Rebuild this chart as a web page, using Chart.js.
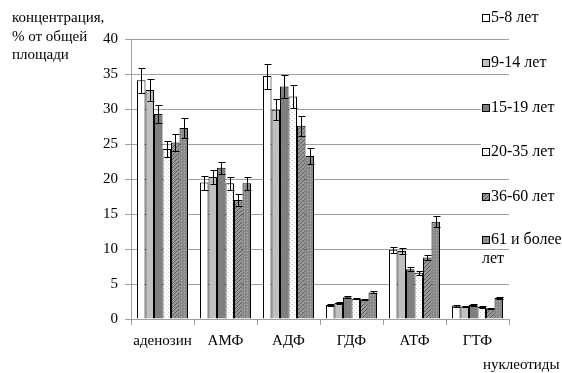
<!DOCTYPE html>
<html><head><meta charset="utf-8">
<script src="https://cdn.jsdelivr.net/npm/chart.js@4"></script>
<style>html,body{margin:0;padding:0;background:#fff}#wrap{width:562px;height:373px}</style>
</head><body><div id="wrap"><canvas id="c" width="562" height="373"></canvas></div>
<script>
const categories = ['аденозин','АМФ','АДФ','ГДФ','АТФ','ГТФ'];
const seriesLabels = ['5-8 лет','9-14 лет','15-19 лет','20-35 лет','36-60 лет','61 и более лет'];
const v_5_8   = [34.1, 19.5, 34.7, 2.0, 9.9, 1.9];
const v_9_14  = [32.7, 20.3, 29.9, 2.3, 9.7, 1.8];
const v_15_19 = [29.3, 21.6, 33.2, 3.1, 7.1, 2.0];
const v_20_35 = [24.3, 19.4, 31.8, 2.9, 6.6, 1.7];
const v_36_60 = [25.2, 17.0, 27.6, 2.8, 8.8, 1.5];
const v_61    = [27.3, 19.4, 23.3, 3.8, 13.9, 3.0];
const e_5_8   = [1.8, 1.0, 1.8, 0.15, 0.4, 0.15];
const e_9_14  = [1.6, 1.0, 1.5, 0.15, 0.4, 0.1];
const e_15_19 = [1.3, 0.9, 1.7, 0.15, 0.3, 0.15];
const e_20_35 = [1.2, 0.9, 1.7, 0.1, 0.3, 0.1];
const e_36_60 = [1.2, 0.8, 1.4, 0.1, 0.4, 0.1];
const e_61    = [1.4, 0.9, 1.2, 0.15, 0.8, 0.15];
const yTicks = [0,5,10,15,20,25,30,35,40];

function tile(size, draw){const c=document.createElement('canvas');c.width=size;c.height=size;const x=c.getContext('2d');draw(x);return document.getElementById('c').getContext('2d').createPattern(c,'repeat');}
const pDots = tile(4, x=>{x.fillStyle='#fff';x.fillRect(0,0,4,4);x.fillStyle='#c8c8c8';x.fillRect(0,0,1,1);x.fillRect(2,2,1,1);});
const pHatch = tile(4, x=>{x.fillStyle='#999999';x.fillRect(0,0,4,4);x.fillStyle='#5a5a5a';for(let i=0;i<4;i++){x.fillRect(i,3-i,1,1);} });
const pGrayDots = tile(3, x=>{x.fillStyle='#8a8a8a';x.fillRect(0,0,3,3);x.fillStyle='#b0b0b0';x.fillRect(1,1,1,1);});
const fills = ['#ffffff','#c0c0c0','#7f7f7f',pDots,pHatch,pGrayDots];
const vals = [v_5_8,v_9_14,v_15_19,v_20_35,v_36_60,v_61];
const errs = [e_5_8,e_9_14,e_15_19,e_20_35,e_36_60,e_61];
const FONT = '"Liberation Serif", "Times New Roman", serif';

const errPlugin = {id:'err', afterDatasetsDraw(chart){
  const ctx=chart.ctx, y=chart.scales.y;
  ctx.save();ctx.strokeStyle='#000';ctx.lineWidth=1;
  chart.data.datasets.forEach((ds,i)=>{
    chart.getDatasetMeta(i).data.forEach((bar,j)=>{
      const v=ds.data[j], e=errs[i][j];
      const x=Math.round(bar.x)+0.5, t=Math.round(y.getPixelForValue(v+e))+0.5, b=Math.round(y.getPixelForValue(v-e))+0.5;
      ctx.beginPath();ctx.moveTo(x,t);ctx.lineTo(x,b);
      ctx.moveTo(x-3,t);ctx.lineTo(x+4,t);ctx.moveTo(x-3,b);ctx.lineTo(x+4,b);ctx.stroke();
    });
  });
  ctx.restore();
}};
const textPlugin = {id:'txt', afterDraw(chart){
  const ctx=chart.ctx;ctx.save();
  ctx.fillStyle='#000';ctx.font='15px '+FONT;ctx.textBaseline='alphabetic';ctx.textAlign='left';
  ctx.fillText('концентрация,',12,22);
  ctx.fillText('% от общей',12,41);
  ctx.fillText('площади',12,59);
  ctx.fillText('нуклеотиды',483,369);
  // legend
  ctx.font='16px '+FONT;
  const ys=[18,63,108,152,197,240];
  ctx.textBaseline='middle';
  chart.data.datasets.forEach((ds,i)=>{
    const yy=ys[i];
    const txt = i===5 ? '61 и более' : ds.label;
    const w = ctx.measureText(txt).width;
    ctx.fillStyle='#fff';ctx.fillRect(481,yy-8,w+10,16);
    ctx.fillStyle=fills[i];ctx.fillRect(482,yy-3,7,7);
    ctx.strokeStyle='#000';ctx.lineWidth=1;ctx.strokeRect(482.5,yy-3.5,7,7);
    ctx.fillStyle='#000';
    ctx.fillText(txt,491,yy);
    if(i===5){ctx.fillText('лет',482,yy+19);}
  });
  ctx.restore();
}};

new Chart(document.getElementById('c'),{
  type:'bar',
  data:{labels:categories,datasets:seriesLabels.map((l,i)=>({label:l,data:vals[i],backgroundColor:fills[i],borderColor:'#000',borderWidth:1,categoryPercentage:0.81,barPercentage:1}))},
  options:{responsive:false,animation:false,devicePixelRatio:1,
    layout:{padding:{top:39,right:53,bottom:0,left:0}},
    plugins:{legend:{display:false},tooltip:{enabled:false}},
    scales:{
      x:{offset:true,grid:{offset:true,drawOnChartArea:false,drawTicks:true,tickLength:6,color:'#a0a0a0'},border:{color:'#a0a0a0'},
         ticks:{color:'#000',font:{family:FONT,size:15},padding:7,maxRotation:0},
         afterFit(s){s.height=54;}},
      y:{min:0,max:40,afterBuildTicks(s){s.ticks=yTicks.map(v=>({value:v}));},
         grid:{color:'#a0a0a0',tickLength:6},border:{color:'#a0a0a0'},
         ticks:{color:'#000',font:{family:FONT,size:15},padding:7},
         afterFit(s){s.width=131;}}
    }
  },
  plugins:[errPlugin,textPlugin]
});
</script></body></html>
